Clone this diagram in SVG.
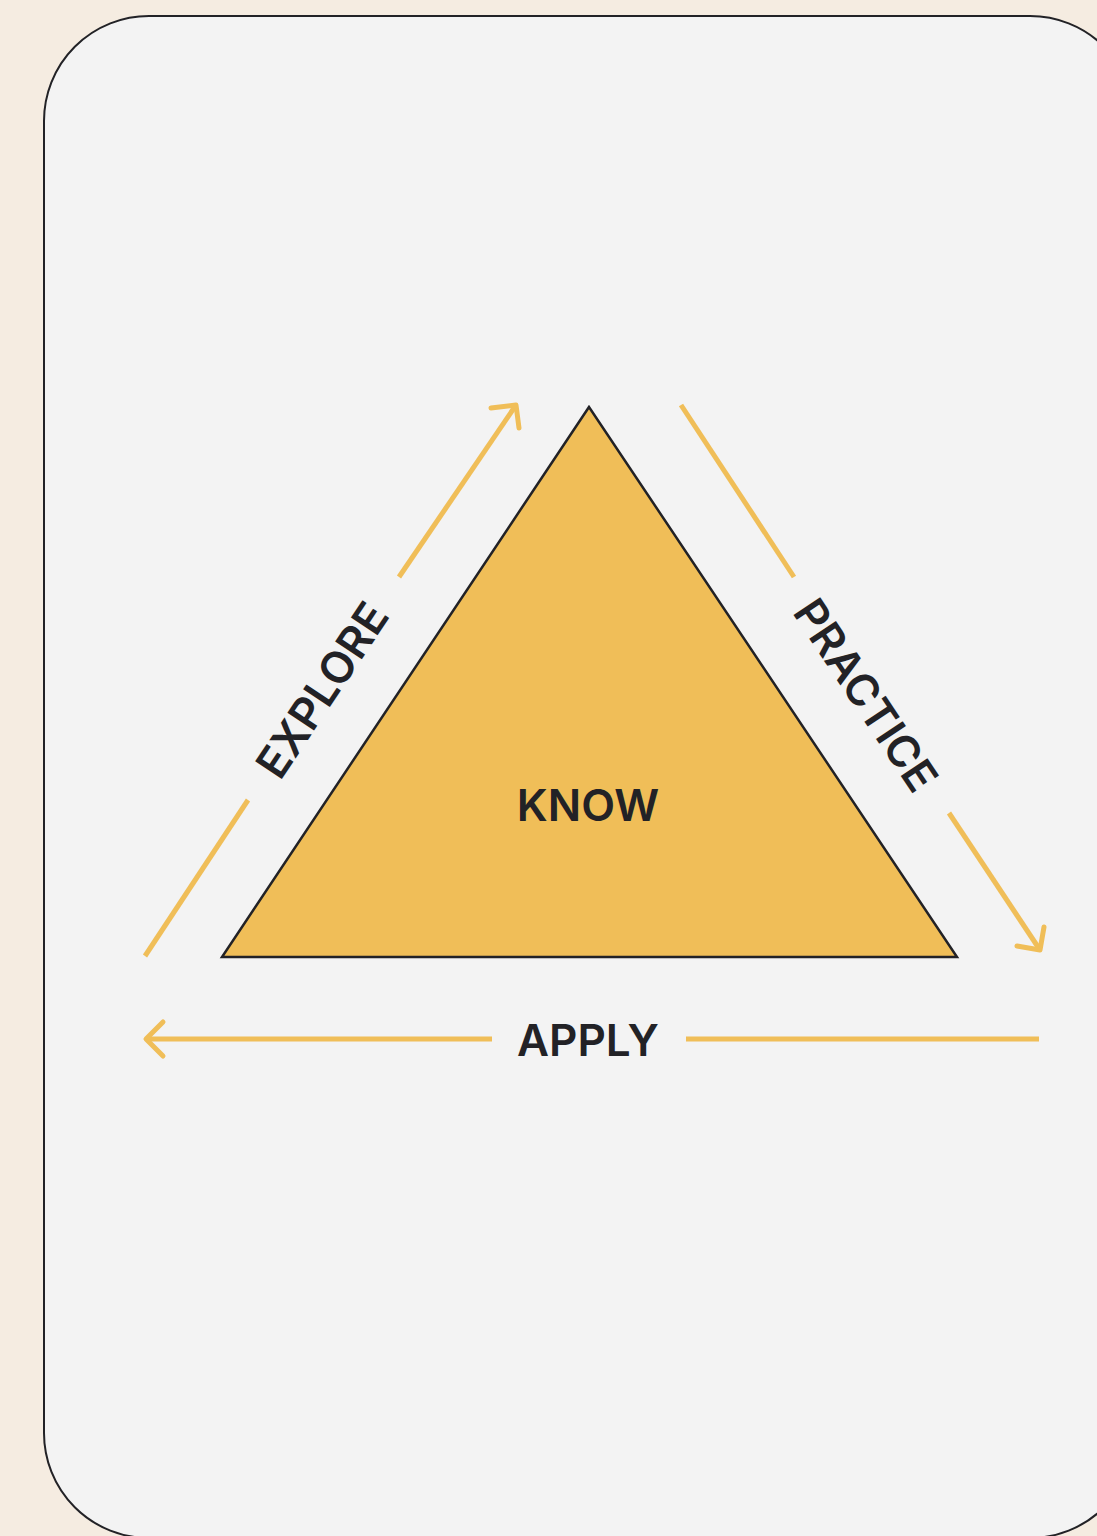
<svg xmlns="http://www.w3.org/2000/svg" width="1097" height="1536" viewBox="0 0 1097 1536">
<style>
.lbl{font-family:Inter,"Noto Sans","Liberation Sans",sans-serif;font-weight:600;fill:#222226;text-anchor:middle;dominant-baseline:central}
.con{stroke:#F0BE58;stroke-width:5;fill:none;stroke-linecap:butt}
.head{stroke:#F0BE58;stroke-width:5;fill:none;stroke-linecap:round;stroke-linejoin:round}
</style>
<rect width="1097" height="1536" fill="#F5ECE1"/>
<rect id="card" x="44" y="16" width="1091" height="1522" rx="105" ry="105" fill="#F3F3F3" stroke="#222226" stroke-width="2"/>
<g id="know">
<polygon points="589,407 222,957 957,957" fill="#F0BE58" stroke="#222226" stroke-width="2.5" stroke-linejoin="miter"/>
<text class="lbl" x="588" y="805" font-size="44">KNOW</text>
</g>
<g id="connectors">
<line class="con" x1="145" y1="956" x2="248" y2="800"/>
<line class="con" x1="399" y1="577" x2="516" y2="405"/>
<polyline class="head" points="491,408 516,405 519,428"/>
<line class="con" x1="681" y1="405" x2="794" y2="577"/>
<line class="con" x1="949" y1="813" x2="1040" y2="950"/>
<polyline class="head" points="1017,946 1040,950 1044,927"/>
<line class="con" x1="1039" y1="1039" x2="686" y2="1039"/>
<line class="con" x1="492" y1="1039" x2="146" y2="1039"/>
<polyline class="head" points="163,1022 146,1039 163,1056"/>
</g>
<g id="explore">
<text class="lbl" font-size="44" transform="translate(322,690) rotate(-56.3)">EXPLORE</text>
</g>
<g id="practice">
<text class="lbl" font-size="44" transform="translate(866,695) rotate(56.3)">PRACTICE</text>
</g>
<g id="apply">
<text class="lbl" x="588" y="1040" font-size="44">APPLY</text>
</g>
</svg>
